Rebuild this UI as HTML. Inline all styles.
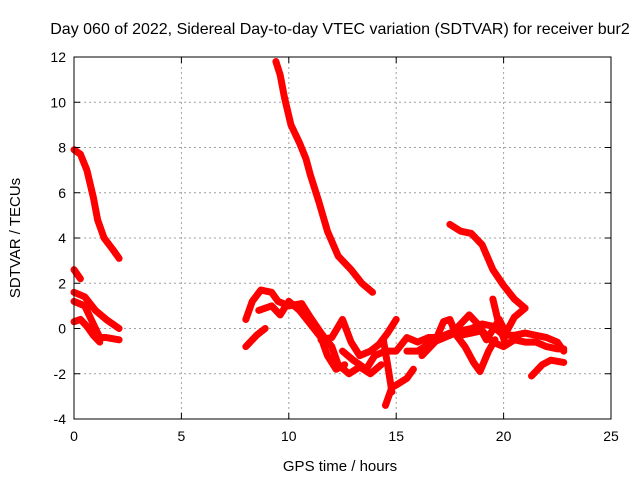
<!DOCTYPE html>
<html><head><meta charset="utf-8"><style>
html,body{margin:0;padding:0;background:#fff}
svg text{font-family:"Liberation Sans",sans-serif;fill:#000}
</style></head><body>
<svg id="chart" width="640" height="480" xmlns="http://www.w3.org/2000/svg">
<rect width="640" height="480" fill="#fff"/>
<text x="340" y="34" font-size="16" text-anchor="middle">Day 060 of 2022, Sidereal Day-to-day VTEC variation (SDTVAR) for receiver bur2</text>
<text x="340" y="471" font-size="15" text-anchor="middle">GPS time / hours</text>
<text transform="translate(20,238) rotate(-90)" font-size="15" text-anchor="middle">SDTVAR / TECUs</text>
<g id="grid"></g><g id="marks"></g><g id="axes"></g>
</svg>
<script>
const xTicks=[0,5,10,15,20,25];
const yTicks=[-4,-2,0,2,4,6,8,10,12];
const tracks=[
[[0,7.9],[0.3,7.7],[0.6,7.0],[0.9,5.8],[1.1,4.8],[1.4,4.0],[1.8,3.5],[2.1,3.1]],
[[0,2.6],[0.3,2.2]],
[[0,1.6],[0.5,1.4],[1.0,0.8],[1.5,0.4],[2.1,0.0]],
[[0,1.2],[0.5,1.0],[0.9,0.2],[1.2,-0.4],[1.5,-0.4],[2.1,-0.5]],
[[0,0.3],[0.3,0.4],[0.6,0.1],[0.9,-0.3],[1.2,-0.6]],
[[9.4,11.8],[9.6,11.2],[9.8,10.2],[10.1,9.0],[10.5,8.2],[10.8,7.5],[11.0,6.8],[11.4,5.6],[11.8,4.3],[12.3,3.2],[12.9,2.6],[13.4,2.0],[13.9,1.6]],
[[17.5,4.6],[18.0,4.3],[18.5,4.2],[19.0,3.7],[19.5,2.6],[20.0,1.9],[20.5,1.3],[21.0,0.9]],
[[8.0,0.4],[8.3,1.2],[8.7,1.7],[9.2,1.6],[9.5,1.2],[10.0,1.0],[10.6,1.1],[11.0,0.5],[11.5,-0.2],[12.0,-0.8],[12.3,-1.6],[12.8,-2.0],[13.3,-1.7],[13.8,-2.0],[14.3,-1.6]],
[[8.0,-0.8],[8.5,-0.3],[8.9,0.0]],
[[8.6,0.8],[9.2,1.0],[9.6,0.6],[10.0,1.2],[10.5,0.8],[11.0,0.2],[11.5,-0.4],[11.8,-1.2],[12.2,-1.8],[12.6,-1.6]],
[[11.5,-0.5],[12.0,-0.4],[12.5,0.4],[12.9,-0.6],[13.3,-1.2],[13.8,-1.0],[14.2,-0.7],[14.6,-0.2],[15.0,0.4]],
[[12.5,-1.0],[13.0,-1.4],[13.6,-1.8],[14.0,-1.2],[14.5,-1.0],[15.0,-1.0],[15.5,-0.4],[16.0,-0.6],[16.5,-0.4],[17.0,-0.4],[17.5,-0.2],[18.0,-0.3],[18.5,-0.2],[19.0,-0.1],[19.5,-0.6],[20.0,-0.8],[20.5,-0.5],[21.0,-0.6],[21.5,-0.6],[22.0,-0.8],[22.5,-0.9],[22.8,-0.9]],
[[14.5,-3.4],[14.8,-2.6],[15.0,-2.5],[15.5,-2.2],[15.8,-1.8]],
[[14.4,-0.5],[14.6,-1.6],[14.8,-2.8]],
[[15.5,-1.0],[16.0,-1.0],[16.5,-0.7],[17.0,-0.5],[17.5,-0.3],[18.0,-0.1],[18.5,0.0],[19.0,0.2],[19.5,0.1],[20.0,-0.3],[20.5,-0.3],[21.0,-0.2],[21.5,-0.3],[22.0,-0.4],[22.5,-0.6],[22.8,-1.0]],
[[16.2,-1.2],[16.8,-0.6],[17.2,0.3],[17.5,0.4],[17.8,-0.3],[18.2,-0.8],[18.6,-1.5],[18.9,-1.9],[19.3,-1.0],[19.6,-0.5]],
[[17.5,-0.3],[18.0,0.2],[18.4,0.6],[18.8,0.2],[19.2,-0.5],[19.8,0.4],[20.1,-0.2],[20.5,0.5],[21.0,0.9]],
[[19.5,1.3],[19.8,0.1],[20.1,-0.7]],
[[21.3,-2.1],[21.8,-1.6],[22.2,-1.4],[22.8,-1.5]]
];
const L=74,R=611,T=57,B=419;
const sx=h=>L+(h-0)/25*(R-L);
const sy=v=>B-(v+4)/16*(B-T);
const NS='http://www.w3.org/2000/svg';
function mk(tag,attrs,parent){const e=document.createElementNS(NS,tag);for(const k in attrs)e.setAttribute(k,attrs[k]);parent.appendChild(e);return e;}
const grid=document.getElementById('grid'),marks=document.getElementById('marks'),axes=document.getElementById('axes');
xTicks.forEach(t=>{
  const x=sx(t);
  if(t>0&&t<25){const g=mk('line',{x1:x,x2:x,y1:T,y2:B,stroke:'#a0a0a0','stroke-dasharray':'2,3'},grid);
  
  }
  mk('line',{x1:x,x2:x,y1:B,y2:B-6,stroke:'#000'},axes);
  mk('line',{x1:x,x2:x,y1:T,y2:T+6,stroke:'#000'},axes);
  const tx=mk('text',{x:x,y:B+22,'font-size':14,'text-anchor':'middle'},axes);tx.textContent=t;
  
  
});
yTicks.forEach(t=>{
  const y=sy(t);
  if(t>-4&&t<12){const g=mk('line',{x1:L,x2:R,y1:y,y2:y,stroke:'#a0a0a0','stroke-dasharray':'2,3'},grid);
  
  }
  mk('line',{x1:L,x2:L+6,y1:y,y2:y,stroke:'#000'},axes);
  mk('line',{x1:R,x2:R-6,y1:y,y2:y,stroke:'#000'},axes);
  const tx=mk('text',{x:L-8,y:y+5,'font-size':14,'text-anchor':'end'},axes);tx.textContent=t;
  
  
});
const fr=mk('rect',{x:L,y:T,width:R-L,height:B-T,fill:'none',stroke:'#000'},axes);


tracks.forEach(tr=>{
  const p=mk('polyline',{points:tr.map(d=>sx(d[0])+','+sy(d[1])).join(' '),fill:'none',stroke:'#ff0000','stroke-width':7,'stroke-linejoin':'round','stroke-linecap':'round'},marks);
  
  
});
</script>
</body></html>
